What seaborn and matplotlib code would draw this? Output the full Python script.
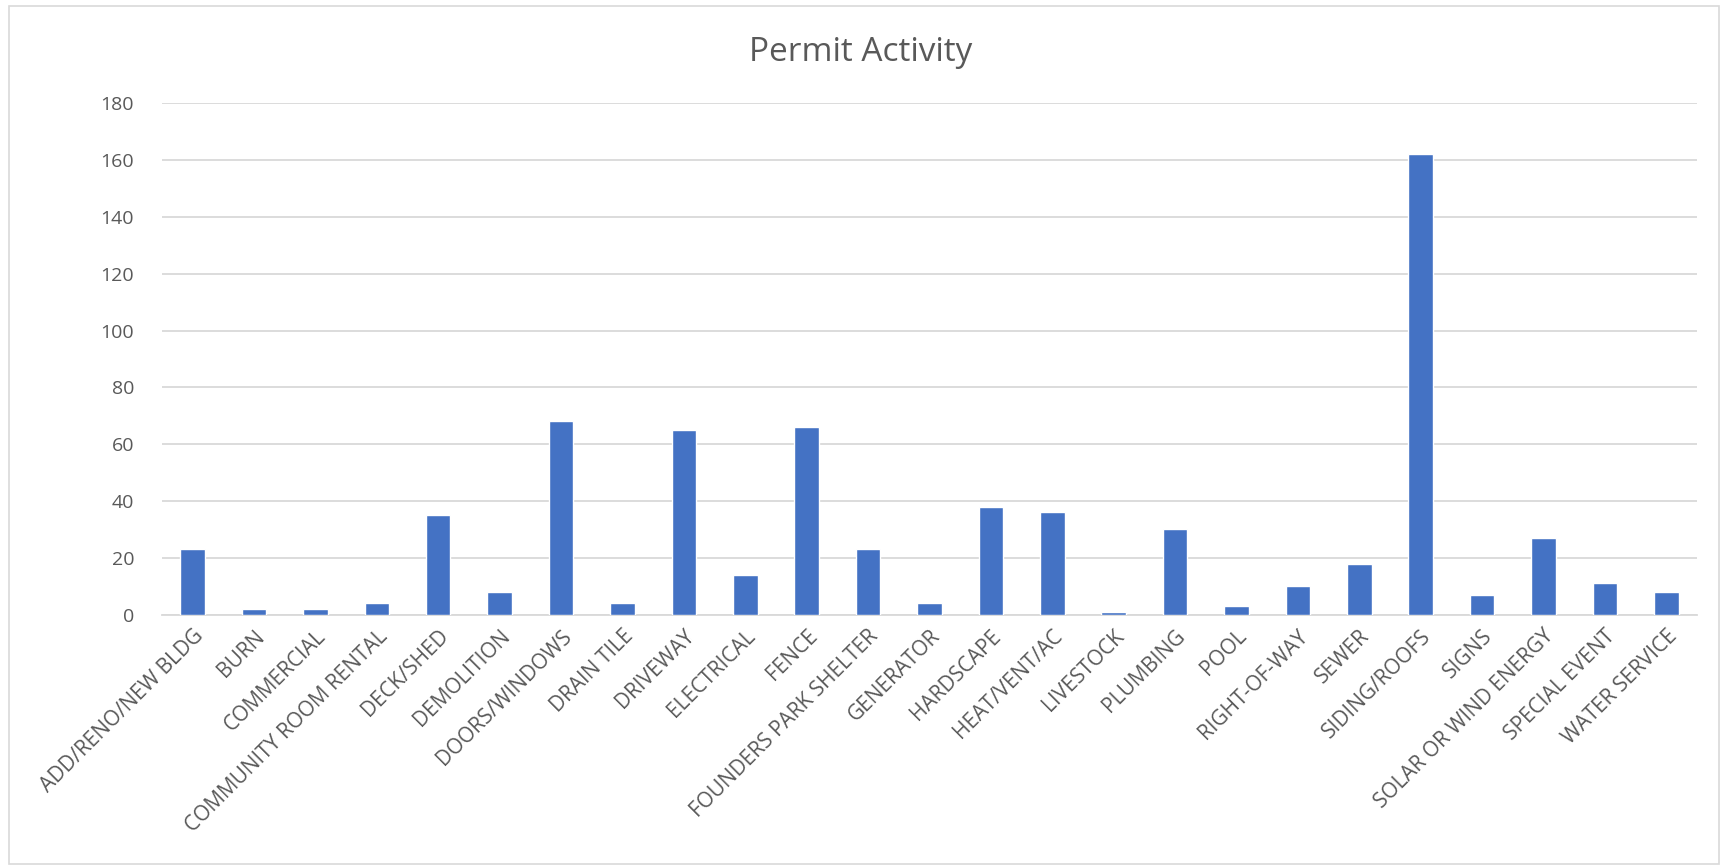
import matplotlib
matplotlib.use("Agg")
import matplotlib.pyplot as plt
import matplotlib.patches as patches
import seaborn as sns
import pandas as pd

# permit counts
categories = [
    "ADD/RENO/NEW BLDG", "BURN", "COMMERCIAL", "COMMUNITY ROOM RENTAL",
    "DECK/SHED", "DEMOLITION", "DOORS/WINDOWS", "DRAIN TILE", "DRIVEWAY",
    "ELECTRICAL", "FENCE", "FOUNDERS PARK SHELTER", "GENERATOR", "HARDSCAPE",
    "HEAT/VENT/AC", "LIVESTOCK", "PLUMBING", "POOL", "RIGHT-OF-WAY", "SEWER",
    "SIDING/ROOFS", "SIGNS", "SOLAR OR WIND ENERGY", "SPECIAL EVENT",
    "WATER SERVICE",
]
permits = [23, 2, 2, 4, 35, 8, 68, 4, 65, 14, 66, 23, 4, 38, 36, 1, 30, 3,
           10, 18, 162, 7, 27, 11, 8]
y_ticks = [0, 20, 40, 60, 80, 100, 120, 140, 160, 180]

df = pd.DataFrame({"category": categories, "permits": permits})

sns.set_theme(style="white")
plt.rcParams["font.family"] = ["Open Sans", "DejaVu Sans"]

text_color = "#595959"
grid_color = "#d9d9d9"

fig = plt.figure(figsize=(17.22, 8.67), dpi=100)
ax = fig.add_axes([0.094, 0.291, 0.8915, 0.590])

sns.barplot(data=df, x="category", y="permits", color="#4472c4",
            width=0.4, saturation=1, ax=ax, zorder=3)

ax.set_ylim(0, 180)
ax.set_yticks(y_ticks)
ax.set_xlim(-0.5, len(categories) - 0.5)
ax.yaxis.grid(True, color=grid_color, linewidth=1.3, zorder=0)
ax.set_axisbelow(True)
for side in ["top", "right", "left"]:
    ax.spines[side].set_visible(False)
ax.spines["bottom"].set_color(grid_color)
ax.spines["bottom"].set_linewidth(1.3)

ax.set_xlabel("")
ax.set_ylabel("")
ax.tick_params(axis="both", length=0, colors=text_color)
ax.tick_params(axis="y", pad=20, labelsize=14)
ax.set_xticks(range(len(categories)))
ax.set_xticklabels(categories, rotation=45, ha="right", va="top",
                   rotation_mode="anchor")
ax.tick_params(axis="x", pad=8, labelsize=15)

fig.text(0.5, 0.94, "Permit Activity", ha="center", va="center",
         fontsize=24, color=text_color)

# light frame around the whole chart
fig.patches.append(patches.Rectangle((0.005, 0.003), 0.993, 0.99,
                                     transform=fig.transFigure, fill=False,
                                     edgecolor=grid_color, linewidth=1.2))

fig.savefig("out.png", dpi=100)
